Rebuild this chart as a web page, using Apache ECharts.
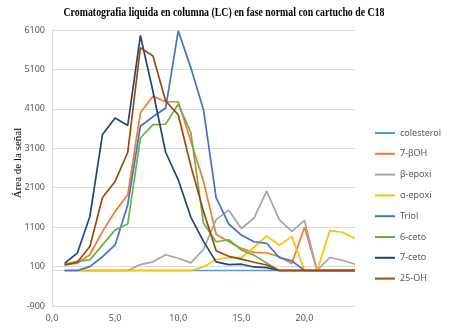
<!DOCTYPE html>
<html>
<head>
<meta charset="utf-8">
<script src="https://cdn.jsdelivr.net/npm/echarts@6/dist/echarts.min.js"></script>
<style>html,body{margin:0;padding:0;background:#fff;}#c{width:449px;height:330px;}</style>
</head>
<body>
<div id="c"></div>
<script>
var titleText = 'Cromatografia liquida en columna (LC) en fase normal con cartucho de C18';
var xName = 'Volumen de eluyente (mL)';
var yName = 'Área de la señal';
var volumes = [1,2,3,4,5,6,7,8,9,10,11,12,13,14,15,16,17,18,19,20,21,22,23,24];
var seriesNames = ['colesterol','7-βOH','β-epoxi','α-epoxi','Triol','6-ceto','7-ceto','25-OH'];
var colors = ['#5B9BD5','#ED7D31','#A5A5A5','#FFC000','#4472C4','#70AD47','#264478','#9E480E'];
var colesterol = [0,0,0,0,0,0,0,0,0,0,0,0,0,0,0,0,0,0,0,0,0,0,0,0];
var b7OH = [140,185,400,990,1500,1920,4000,4420,4280,4280,3280,2260,920,730,560,460,450,350,180,1100,0,0,0,0];
var bEpoxi = [0,0,0,0,0,0,150,220,400,310,195,540,1290,1530,1065,1330,2015,1290,990,1270,0,330,260,160];
var aEpoxi = [null,0,0,0,0,0,0,0,0,0,0,90,280,330,330,590,880,640,860,0,0,1010,970,820];
var triol = [0,0,100,350,650,1670,3660,3900,4120,6080,5140,4080,1840,1180,900,730,690,330,245,0,0,0,0,0];
var ceto6 = [160,230,270,650,1030,1180,3360,3700,3710,4220,3500,1200,730,780,520,390,190,0,0,0,0,0,0,0];
var ceto7 = [180,440,1370,3450,3870,3680,5960,4540,3000,2300,1350,740,220,150,160,90,75,0,0,0,0,0,0,0];
var oh25 = [140,210,610,1850,2260,3000,5650,5440,4300,3950,2650,1500,500,360,290,210,140,0,0,0,0,0,0,0];
var values = [colesterol,b7OH,bEpoxi,aEpoxi,triol,ceto6,ceto7,oh25];

var chart = echarts.init(document.getElementById('c'));
var series = seriesNames.map(function(n,i){
  return {
    name:n, type:'line', symbol:'none', showSymbol:false,
    data: volumes.map(function(x,j){ return [x, values[i][j]]; }),
    lineStyle:{color:colors[i], width:1.7},
    itemStyle:{color:colors[i]},
    connectNulls:false, animation:false
  };
});
chart.setOption({
  animation:false,
  grid:{left:52,right:94,top:30,bottom:24,containLabel:false,outerBoundsMode:'none'},
  legend:{orient:'vertical',left:375,top:127,itemWidth:20,itemHeight:2,itemGap:8.8,padding:0,
    icon:'rect',
    data:seriesNames,textStyle:{fontFamily:'Noto Sans',fontSize:9,lineHeight:12,color:'#595959'}},
  graphic:[
    {type:'text',x:224,y:13,scaleX:0.82,
      style:{text:titleText,font:'bold 12px "Liberation Serif"',fill:'#000',align:'center',verticalAlign:'middle'}},
    {type:'text',x:18,y:163,rotation:Math.PI/2,
      style:{text:yName,font:'11px "Liberation Serif"',fill:'#000',align:'center',verticalAlign:'middle'}}
  ],
  xAxis:{type:'value',min:0,max:24,interval:5,
    name:xName,nameLocation:'middle',nameGap:41,
    nameTextStyle:{fontFamily:'Liberation Serif',fontSize:11,color:'#000'},
    axisLine:{onZero:true,lineStyle:{color:'#D9D9D9'}},
    axisTick:{show:false},splitLine:{show:false},
    axisLabel:{showMaxLabel:false,color:'#595959',fontFamily:'Noto Sans',fontSize:9,margin:8,
      formatter:function(v){return v.toFixed(1).replace('.',',');}}},
  yAxis:{type:'value',min:-900,max:6100,interval:1000,
    axisLine:{show:true,lineStyle:{color:'#D9D9D9'}},axisTick:{show:false},
    splitLine:{lineStyle:{color:'#D9D9D9'}},
    axisLabel:{color:'#595959',fontFamily:'Noto Sans',fontSize:9,margin:7,
      formatter:function(v){return String(v);}}},
  series:series
});
</script>
</body>
</html>
